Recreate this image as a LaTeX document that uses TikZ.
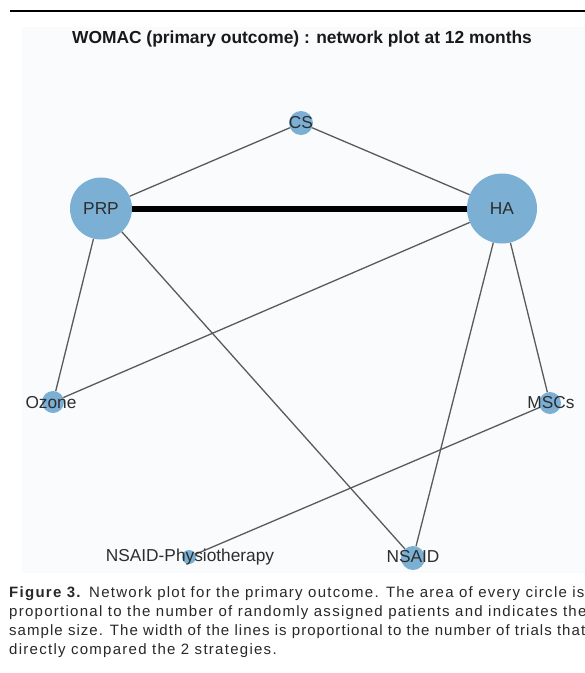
\documentclass[tikz,border=0pt]{standalone}
\usepackage{fontspec}
\setmainfont{Liberation Sans}
\setsansfont{Liberation Sans}
\newfontfamily\capfont[LetterSpace=8.5]{Liberation Sans}
\newfontfamily\capfonttight[LetterSpace=7]{Liberation Sans}
\definecolor{nodeblue}{RGB}{123,175,212}
\definecolor{plotbg}{RGB}{249,251,253}
\definecolor{edgegray}{RGB}{90,90,90}
\definecolor{labeltext}{RGB}{45,45,45}
\definecolor{captext}{RGB}{40,40,40}
\tikzset{
  netnode/.style={circle, fill=nodeblue, draw=none, inner sep=0pt, minimum size=#1},
  netlabel/.style={inner sep=0pt, text=labeltext, font=\fontsize{17.3}{19}\selectfont},
  thinedge/.style={draw=edgegray, line width=1.3pt},
  thickedge/.style={draw=black, line width=6pt},
  captionline/.style={anchor=base west, inner sep=0pt, text=captext, font=\capfont\fontsize{15}{17}\selectfont},
}
\begin{document}
\begin{tikzpicture}[x=1pt,y=-1pt]
\useasboundingbox (0,0) rectangle (585,673);
\fill[white] (0,0) rectangle (585,673);
% top rule
\draw[line width=2pt, black] (10,11) -- (585,11);
% plot background
\fill[plotbg] (22,27) rectangle (585,573);
% title
\node[inner sep=0pt, text=black!90, font=\bfseries\fontsize{17.4}{19}\selectfont] (title) at (302,39) {WOMAC (primary outcome) : network plot at 12 months};
% nodes
\node[netnode=24pt] (CS) at (301,123) {};
\node[netnode=62pt] (PRP) at (101,208.5) {};
\node[netnode=70pt] (HA) at (502,208.5) {};
\node[netnode=22pt] (Ozone) at (53,402) {};
\node[netnode=22pt] (MSCs) at (550,403) {};
\node[netnode=14pt] (NP) at (189,557) {};
\node[netnode=24pt] (NSAID) at (413,558) {};
% edges
\draw[thinedge] (PRP) -- (CS);
\draw[thinedge] (CS) -- (HA);
\draw[thickedge] (PRP) -- (HA);
\draw[thinedge] (PRP) -- (Ozone);
\draw[thinedge] (PRP) -- (NSAID);
\draw[thinedge] (HA) -- (Ozone);
\draw[thinedge] (HA) -- (NSAID);
\draw[thinedge] (HA) -- (MSCs);
\draw[thinedge] (MSCs) -- (NP);
% labels
\node[netlabel] (CSl) at (301,123) {CS};
\node[netlabel] (PRPl) at (101,209) {PRP};
\node[netlabel] (HAl) at (502,209) {HA};
\node[netlabel] (Ozonel) at (51,403) {Ozone};
\node[netlabel] (MSCsl) at (551,403) {MSCs};
\node[netlabel] (NPl) at (190,557) {NSAID-Physiotherapy};
\node[netlabel] (NSAIDl) at (413,557) {NSAID};
% caption
\node[captionline] (cap1) at (9,597) {\textbf{Figure 3.} Network plot for the primary outcome. The area of every circle is};
\node[captionline] (cap2) at (9,616) {proportional to the number of randomly assigned patients and indicates the};
\node[captionline, font=\capfonttight\fontsize{15}{17}\selectfont] (cap3) at (9,635) {sample size. The width of the lines is proportional to the number of trials that};
\node[captionline] (cap4) at (9,654) {directly compared the 2 strategies.};
\end{tikzpicture}
\end{document}
